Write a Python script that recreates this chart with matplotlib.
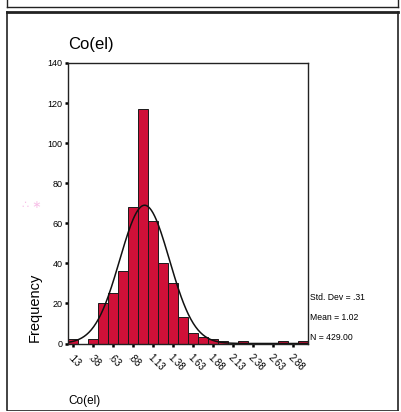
import numpy as np
import matplotlib.pyplot as plt
from matplotlib.lines import Line2D

plt.rcParams['font.family'] = ['Liberation Sans', 'DejaVu Sans']

# Histogram of Co(el): bin midpoints (width .125) and counts
bin_mid = np.arange(1, 25) * 0.125
counts = np.array([2, 0, 2, 20, 25, 36, 68, 117, 61, 40, 30, 13, 5, 3, 2, 1,
                   0, 1, 0, 0, 0, 1, 0, 1])
bin_width = 0.125

tick_pos = np.arange(0.125, 2.9, 0.25)
tick_labels = ['.13', '.38', '.63', '.88', '1.13', '1.38', '1.63', '1.88',
               '2.13', '2.38', '2.63', '2.88']

std_dev = 0.31
mean = 1.02
n = 429

W, H = 402, 412
fig = plt.figure(figsize=(W / 100, H / 100), dpi=100)

def fx(px):
    return px / W

def fy(py):
    return 1 - py / H

# outer boxes
for (x0, y0, x1, y1, lw) in [(7, 0, 7, 7, 1.0), (398, 0, 398, 7, 1.0), (7, 7, 398, 7, 1.0),
                             (7, 12, 398, 12, 2.0), (7, 12, 7, 410, 1.2),
                             (398, 12, 398, 410, 1.2), (7, 410, 398, 410, 0.6)]:
    fig.add_artist(Line2D([fx(x0), fx(x1)], [fy(y0), fy(y1)], color='#222222', lw=lw))

ax = fig.add_axes([fx(68), fy(343.5), fx(308) - fx(68), fy(63) - fy(343.5)])
ax.bar(bin_mid, counts, width=bin_width, color='#d01038', edgecolor='#1a1a1a', linewidth=0.7)

# fitted normal curve
xs = np.linspace(0.0625, 3.0625, 300)
ys = n * bin_width / (std_dev * np.sqrt(2 * np.pi)) * np.exp(-0.5 * ((xs - mean) / std_dev) ** 2)
ax.plot(xs, ys, color='#111111', lw=1.1)

ax.set_xlim(0.0625, 3.0625)
ax.set_ylim(0, 140)
ax.set_yticks(np.arange(0, 141, 20))
ax.tick_params(axis='y', length=2.5, width=1.8, labelsize=6.5, pad=1.5)
ax.set_xticks(tick_pos)
ax.set_xticklabels(tick_labels, rotation=-45, ha='left', va='top', rotation_mode='anchor')
ax.tick_params(axis='x', length=2.5, width=1.8, labelsize=7, pad=4)
for s in ax.spines.values():
    s.set_linewidth(1.0)
    s.set_color('#222222')

fig.text(fx(68), fy(45), 'Co(el)', fontsize=12, va='center', ha='left')
fig.text(fx(35), fy(307), 'Frequency', fontsize=10.5, rotation=90, va='center', ha='center')
fig.text(fx(68), fy(401), 'Co(el)', fontsize=8.5, va='center', ha='left')

fig.text(fx(310), fy(298), f'Std. Dev = {std_dev:.2f}'.replace('0.', '.'), fontsize=6.2, va='center')
fig.text(fx(310), fy(317), f'Mean = {mean:.2f}', fontsize=6.2, va='center')
fig.text(fx(310), fy(338), f'N = {n:.2f}', fontsize=6.2, va='center')

# faint pink ink spots
fig.text(fx(32), fy(205), '∴ ∗', fontsize=8, color='#f080d0', alpha=0.5, va='center', ha='center')

fig.savefig('out.png', dpi=100)
